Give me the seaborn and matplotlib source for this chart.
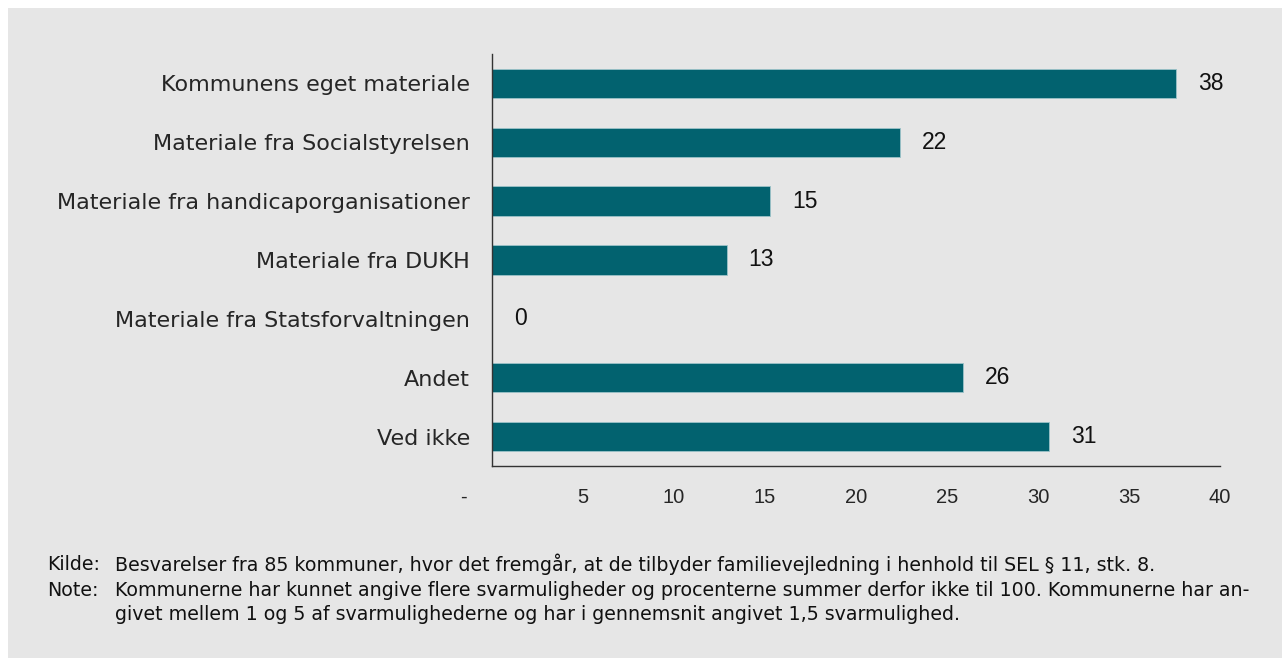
import matplotlib
matplotlib.use("Agg")
import matplotlib.pyplot as plt
import seaborn as sns
import pandas as pd

# andel kommuner (pct.) af 85 besvarelser
categories = [
    "Kommunens eget materiale",
    "Materiale fra Socialstyrelsen",
    "Materiale fra handicaporganisationer",
    "Materiale fra DUKH",
    "Materiale fra Statsforvaltningen",
    "Andet",
    "Ved ikke",
]
values = [37.6, 22.4, 15.3, 12.9, 0.0, 25.9, 30.6]
xticks = [0, 5, 10, 15, 20, 25, 30, 35, 40]
xticklabels = ["-", "5", "10", "15", "20", "25", "30", "35", "40"]

kilde = ("Besvarelser fra 85 kommuner, hvor det fremgår, at de tilbyder "
         "familievejledning i henhold til SEL § 11, stk. 8.")
note1 = ("Kommunerne har kunnet angive flere svarmuligheder og procenterne "
         "summer derfor ikke til 100. Kommunerne har an-")
note2 = ("givet mellem 1 og 5 af svarmulighederne og har i gennemsnit "
         "angivet 1,5 svarmulighed.")

BG = "#e6e6e6"
BAR = "#02626f"
W, H = 1282, 658

df = pd.DataFrame({"kategori": categories, "pct": values})

sns.set_style("white")
plt.rcParams["font.family"] = ["DejaVu Sans"]

fig = plt.figure(figsize=(W / 100, H / 100), dpi=100)
fig.patch.set_facecolor("white")
# grey panel with thin white border top/left
fig.patches.append(plt.Rectangle((8 / W, 0), 1, 1 - 8 / H, transform=fig.transFigure,
                                 facecolor=BG, edgecolor="none", zorder=-1))

ax = fig.add_axes([492 / W, 1 - 466 / H, (1220 - 492) / W, (466 - 54) / H])
ax.set_facecolor(BG)
sns.barplot(data=df, x="pct", y="kategori", orient="h", color=BAR, saturation=1,
            width=0.5, edgecolor="#9cc3c9", linewidth=0.6, ax=ax)

for i, v in enumerate(values):
    ax.text(v + 1.2, i, f"{v:.0f}", va="center", ha="left",
            fontsize=16.5, family="Liberation Sans", color="#111111")

ax.set_xlim(0, 40)
ax.set_ylim(6.5, -0.5)
ax.set_xticks(xticks)
# the "-" for zero sits left of the axis in the original
ax.set_xticklabels([xticklabels[0] + " " * 10] + xticklabels[1:],
                   fontsize=14.5, family="Liberation Sans")
ax.tick_params(axis="x", direction="in", length=8, width=1, color="#333333", pad=16)
ax.tick_params(axis="y", length=0, pad=16, labelsize=16)
ax.set_xlabel("")
ax.set_ylabel("")
for s in ["top", "right"]:
    ax.spines[s].set_visible(False)
for s in ["left", "bottom"]:
    ax.spines[s].set_color("#333333")
    ax.spines[s].set_linewidth(1)

fs = 13.7
fig.text(47 / W, 1 - 564 / H, "Kilde:", fontsize=fs, va="center", color="#111111")
fig.text(115 / W, 1 - 564 / H, kilde, fontsize=fs, va="center", color="#111111")
fig.text(47 / W, 1 - 591 / H, "Note:", fontsize=fs, va="center", color="#111111")
fig.text(115 / W, 1 - 591 / H, note1, fontsize=fs, va="center", color="#111111")
fig.text(115 / W, 1 - 615 / H, note2, fontsize=fs, va="center", color="#111111")

fig.savefig("out.png", dpi=100, facecolor=fig.get_facecolor())
